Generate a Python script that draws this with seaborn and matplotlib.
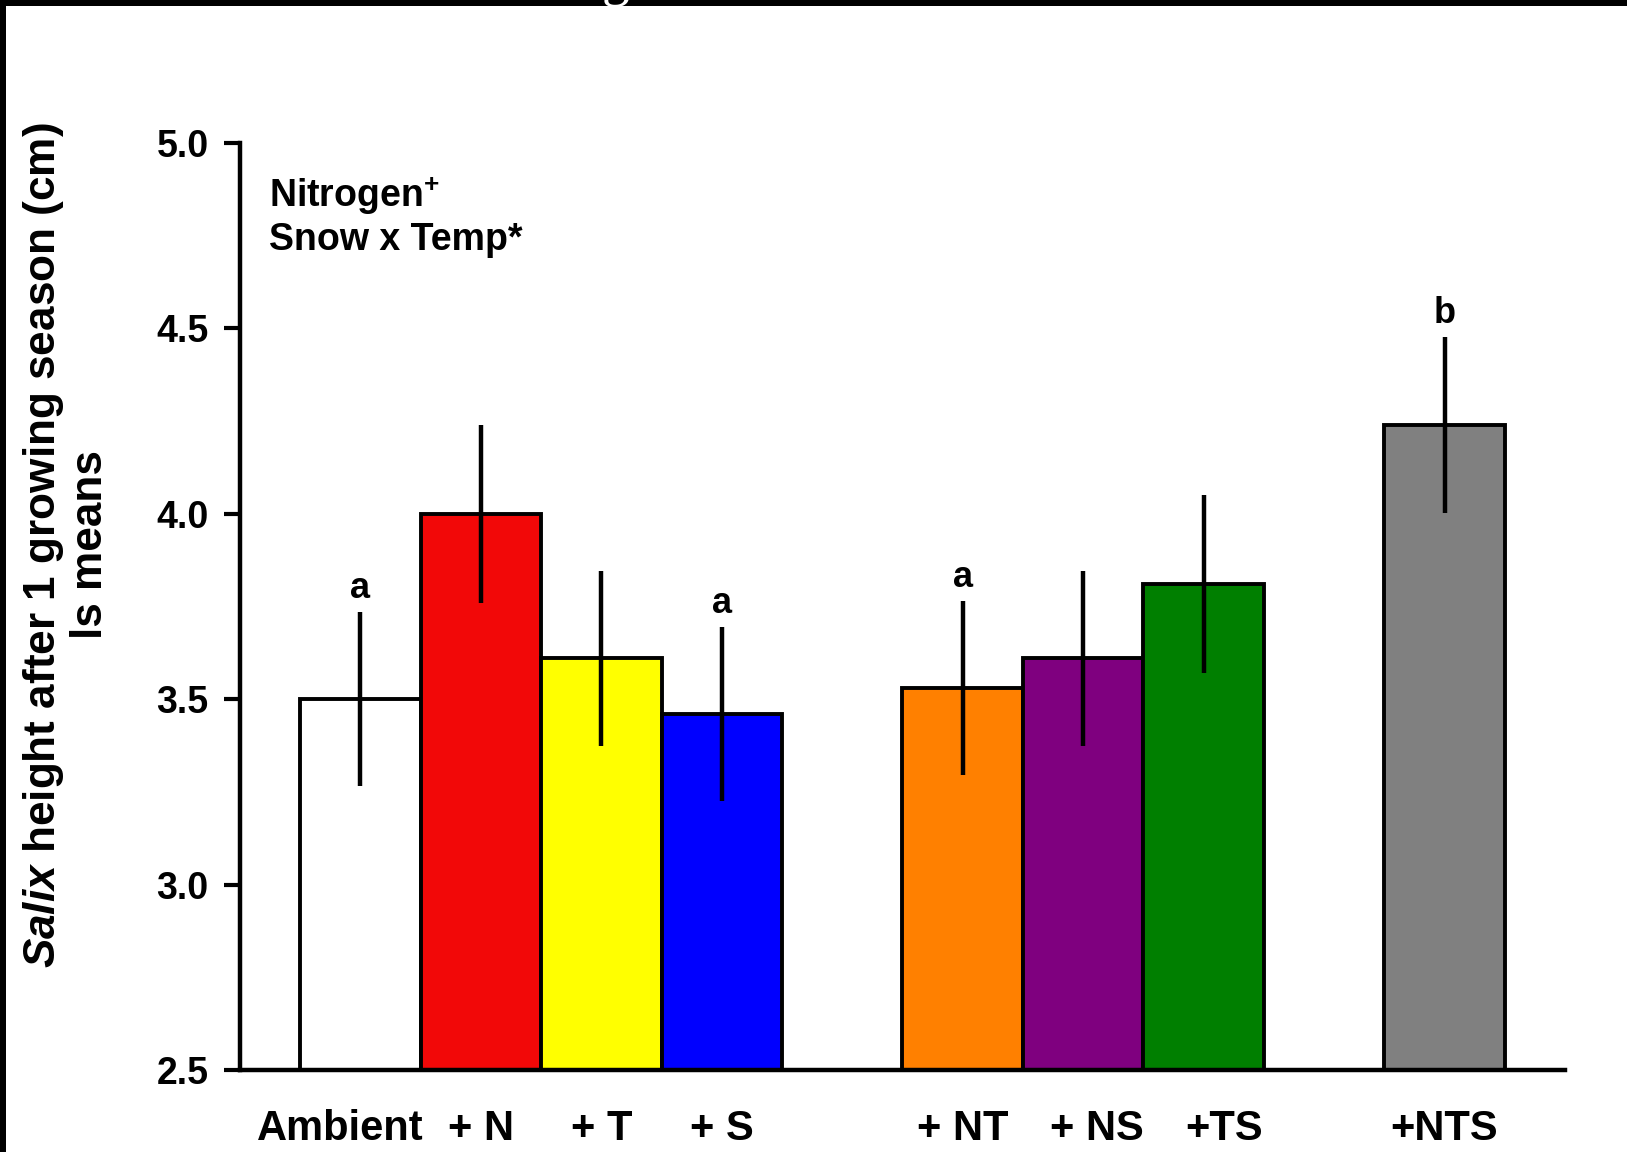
import matplotlib
matplotlib.use("Agg")
import matplotlib.pyplot as plt
import matplotlib.transforms as mtransforms
from matplotlib.patches import Rectangle
import seaborn as sns
import pandas as pd

# Treatment groups, their positions on the axis (gaps separate the groups)
treatments = ["Ambient", "+ N", "+ T", "+ S", "+ NT", "+ NS", "+TS", "+NTS"]
positions = [0, 1, 2, 3, 5, 6, 7, 9]
ls_means = [3.50, 4.00, 3.61, 3.46, 3.53, 3.61, 3.81, 4.24]
std_errors = [0.235, 0.24, 0.235, 0.235, 0.235, 0.235, 0.24, 0.237]
bar_colors = ["#FFFFFF", "#F20808", "#FFFF00", "#0000FF",
              "#FF8000", "#7F007F", "#007F00", "#808080"]

# Post-hoc group letters
letter_positions = [0, 3, 5, 9]
letter_text = ["a", "a", "a", "b"]

y_ticks = [2.5, 3.0, 3.5, 4.0, 4.5, 5.0]

sns.set_style("white")
plt.rcParams["font.family"] = ["Liberation Sans", "DejaVu Sans"]
plt.rcParams["font.weight"] = "bold"
plt.rcParams["text.color"] = "black"
plt.rcParams["axes.labelcolor"] = "black"
plt.rcParams["xtick.color"] = "black"
plt.rcParams["ytick.color"] = "black"
plt.rcParams["mathtext.fontset"] = "custom"
plt.rcParams["mathtext.rm"] = "Liberation Sans:bold"
plt.rcParams["mathtext.it"] = "Liberation Sans:italic:bold"

df = pd.DataFrame({"treatment": treatments, "pos": positions, "mean": ls_means})

fig = plt.figure(figsize=(16.27, 11.52), dpi=100)
ax = fig.add_axes([0.1475, 0.0712, 0.9619 - 0.1475, 0.8759 - 0.0712])

sns.barplot(data=df, x="pos", y="mean", hue="treatment", hue_order=treatments,
            palette=dict(zip(treatments, bar_colors)), native_scale=True,
            dodge=False, width=1.0, errorbar=None, legend=False,
            edgecolor="black", linewidth=2.8, saturation=1, ax=ax)

ax.errorbar(positions, ls_means, yerr=std_errors, fmt="none",
            ecolor="black", elinewidth=3.2, capsize=0, zorder=5)

for p, t in zip(letter_positions, letter_text):
    i = positions.index(p)
    ax.annotate(t, (p, ls_means[i] + std_errors[i]), xytext=(0, 10),
                textcoords="offset points", ha="center", va="baseline",
                fontsize=26, fontweight="bold")

ax.set_xlim(-1, 10)
ax.set_ylim(2.5, 5.0)
ax.set_xticks(positions)
ax.set_xticklabels(treatments, fontsize=30, fontweight="bold")
ax.set_yticks(y_ticks)
ax.set_yticklabels([f"{v:.1f}" for v in y_ticks], fontsize=27, fontweight="bold")
ax.tick_params(axis="x", length=0, pad=28)
ax.tick_params(axis="y", length=11.5, width=3, pad=11, direction="out", left=True)

# Nudge a few crowded category labels sideways (in pixels)
label_nudge = {"Ambient": -20, "+ NS": 14, "+TS": 20}
for lbl in ax.get_xticklabels():
    dx = label_nudge.get(lbl.get_text(), 0)
    if dx:
        lbl.set_transform(lbl.get_transform() +
                          mtransforms.ScaledTranslation(dx / 100, 0, fig.dpi_scale_trans))

for side in ["top", "right"]:
    ax.spines[side].set_visible(False)
for side in ["left", "bottom"]:
    ax.spines[side].set_linewidth(3.2)
    ax.spines[side].set_color("black")
ax.set_xlabel("")
ax.set_ylabel("")

fig.text(66 / 1627, 1 - 545 / 1152,
         "$\\mathit{Salix}$ height after 1 growing season (cm)\nls means",
         rotation=90, ha="center", va="center", multialignment="center",
         fontsize=31.8, fontweight="bold", linespacing=1.13)

ax.text(0.022, 0.931, "Nitrogen$^{+}$", transform=ax.transAxes,
        fontsize=27, fontweight="bold", ha="left", va="baseline")
ax.text(0.022, 0.884, "Snow x Temp*", transform=ax.transAxes,
        fontsize=27, fontweight="bold", ha="left", va="baseline")

# Dark frame strips along the top and left edges
fig.patches.append(Rectangle((0, 1 - 6 / 1152), 1, 6 / 1152, transform=fig.transFigure,
                             facecolor="black", edgecolor="none", zorder=10))
fig.patches.append(Rectangle((0, 0), 6 / 1627, 1, transform=fig.transFigure,
                             facecolor="black", edgecolor="none", zorder=10))
fig.text(615 / 1627, 1 + 5 / 1152, "g", color="white", fontsize=40,
         family="Liberation Serif", fontweight="normal", ha="center",
         va="baseline", zorder=11)

fig.savefig("out.png", dpi=100, facecolor="white")
